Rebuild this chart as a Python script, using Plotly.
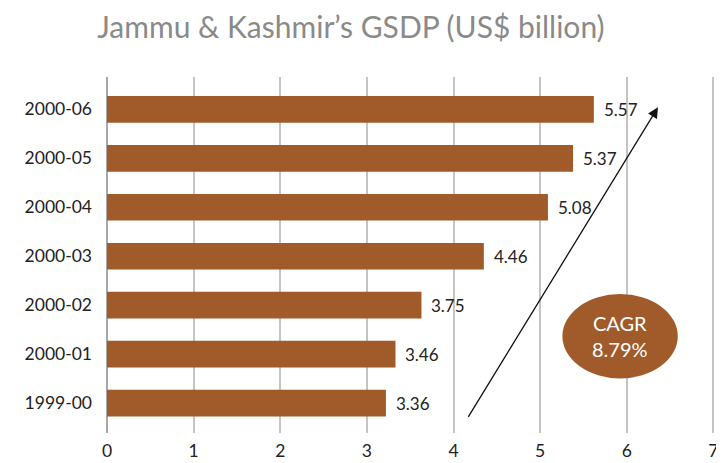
import plotly.graph_objects as go

years = ["1999-00", "2000-01", "2000-02", "2000-03", "2000-04", "2000-05", "2000-06"]
bar_lengths = [3.22, 3.33, 3.63, 4.35, 5.09, 5.38, 5.62]
value_labels = ["3.36", "3.46", "3.75", "4.46", "5.08", "5.37", "5.57"]
x_ticks = [0, 1, 2, 3, 4, 5, 6, 7]
cagr_text = "CAGR<br>8.79%"
title_text = "Jammu & Kashmir\u2019s GSDP (US$ billion)"

BROWN = "#A15A2A"
FONT = "Lato"

fig = go.Figure()
fig.add_trace(go.Bar(
    x=bar_lengths, y=years, orientation="h",
    marker=dict(color=BROWN, line=dict(width=0)),
    width=0.545, hoverinfo="skip",
))

for xv, yv, lab in zip(bar_lengths, years, value_labels):
    fig.add_annotation(x=xv, y=yv, text=lab, showarrow=False,
                       xanchor="left", yanchor="middle", xshift=8,
                       font=dict(family=FONT, size=17, color="#222222"))

# CAGR arrow
fig.add_annotation(x=6.36, y=6.04, ax=4.16, ay=-0.31,
                   xref="x", yref="y", axref="x", ayref="y",
                   showarrow=True, arrowhead=2, arrowsize=1.6,
                   arrowwidth=1.3, arrowcolor="#111111", text="")

# CAGR ellipse
fig.add_shape(type="circle", xref="x", yref="y",
              x0=5.257, x1=6.589, y0=0.505, y1=2.227,
              fillcolor=BROWN, line=dict(width=0), layer="above")
fig.add_annotation(x=5.923, y=1.366, text=cagr_text, showarrow=False,
                   font=dict(family=FONT, size=20, color="white"),
                   xanchor="center", yanchor="middle")

# page body has an 8px margin, so the figure is 8px smaller and margins shifted
fig.update_layout(
    width=716, height=455,
    margin=dict(l=99, r=8, t=69, b=30),
    paper_bgcolor="white", plot_bgcolor="white",
    showlegend=False,
    title=dict(text=title_text, x=0.479, xanchor="center", y=0.958, yanchor="middle",
               font=dict(family=FONT, size=30, color="#8a8a8a")),
    xaxis=dict(range=[0, 7.03], tickvals=x_ticks, showgrid=True,
               gridcolor="#c4c4c4", gridwidth=1.5,
               zeroline=True, zerolinecolor="#a8a8a8", zerolinewidth=2,
               showline=False, ticks="", automargin=False, ticklabelstandoff=5,
               tickfont=dict(family=FONT, size=17.5, color="#222222")),
    yaxis=dict(type="category", categoryorder="array", categoryarray=years,
               range=[-0.61, 6.66], showgrid=False, zeroline=False,
               ticks="", ticklabelstandoff=14, automargin=False,
               tickfont=dict(family=FONT, size=17.5, color="#222222")),
)

fig.write_html("out.html")
